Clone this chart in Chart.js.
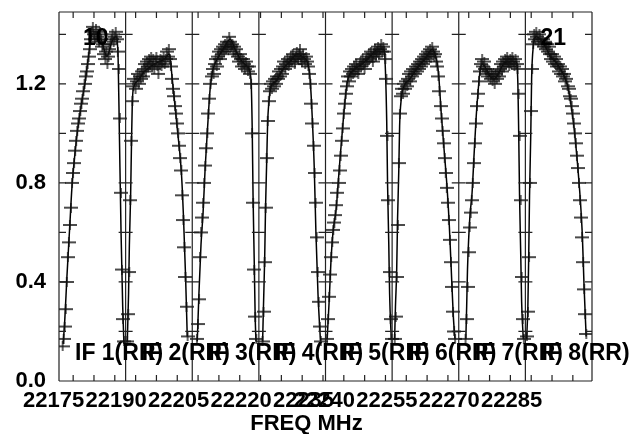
<!DOCTYPE html>
<html><head><meta charset="utf-8">
<script src="https://cdn.jsdelivr.net/npm/chart.js@4.4.0/dist/chart.umd.min.js"></script>
<style>html,body{margin:0;padding:0;background:#fff}#wrap{width:632px;height:434px;position:relative}</style>
</head><body><div id="wrap"><canvas id="c"></canvas></div>
<script>
// ---- data ----
const ifStart = [22171.6, 22187.6, 22203.6, 22219.6, 22235.6, 22251.6, 22267.6, 22283.6];
const ifWidth = 16;
const chanWidth = 0.25;
const ifLabels = ['IF 1(RR)','IF 2(RR)','IF 3(RR)','IF 4(RR)','IF 5(RR)','IF 6(RR)','IF 7(RR)','IF 8(RR)'];
const cornerLabels = ['10', '21'];
const xTickValues = [22175,22180,22185,22190,22195,22200,22205,22210,22215,22220,22225,22230,22235,22240,22245,22250,22255,22260,22265,22270,22275,22280,22285,22290,22295];
const xTickLabels = [22175,22190,22205,22220,22235,22240,22255,22270,22285];
const yTickValues = [0.2,0.4,0.6,0.8,1.0,1.2,1.4];
const yTickLabels = [0.0,0.4,0.8,1.2];
const axisTitle = 'FREQ MHz';

// channel amplitudes per IF (64 channels each, null = no data)
const amp1 = [null,null,null,0.14,0.17,0.22,0.29,0.40,0.50,0.56,0.63,0.70,0.80,0.84,0.88,0.93,0.97,1.01,1.04,1.06,1.09,1.12,1.14,1.17,1.20,1.23,1.25,1.28,1.31,1.34,1.38,1.41,1.43,1.40,1.38,1.42,1.39,1.40,1.37,1.41,1.38,1.35,1.36,1.32,1.30,1.33,1.28,1.31,1.34,1.36,1.38,1.40,1.37,1.39,1.41,1.38,1.33,1.26,1.06,0.76,0.45,0.25,0.16,null];
const amp2 = [null,0.16,0.27,0.44,0.73,0.97,1.13,1.19,1.22,1.18,1.21,1.24,1.20,1.23,1.22,1.25,1.23,1.26,1.28,1.25,1.29,1.27,1.30,1.28,1.31,1.27,1.30,1.26,1.29,1.31,1.27,1.24,1.28,1.30,1.27,1.29,1.31,1.28,1.30,1.33,1.31,1.34,1.30,1.27,1.22,1.18,1.15,1.11,1.08,1.04,1.00,0.95,0.90,0.85,0.75,0.65,0.54,0.42,0.30,0.18,null,null,null,null];
const amp3 = [null,null,null,null,0.17,0.23,0.33,0.50,0.60,0.66,0.72,0.80,0.87,0.94,1.00,1.08,1.14,1.20,1.23,1.26,1.24,1.28,1.30,1.27,1.31,1.33,1.30,1.34,1.32,1.35,1.33,1.36,1.34,1.37,1.35,1.39,1.37,1.35,1.36,1.33,1.35,1.32,1.34,1.31,1.29,1.32,1.30,1.27,1.30,1.28,1.26,1.29,1.27,1.25,1.27,1.24,1.20,1.00,0.72,0.45,0.26,0.17,null,null];
const amp4 = [null,null,null,0.16,0.28,0.48,0.70,0.90,1.05,1.13,1.17,1.20,1.18,1.21,1.19,1.22,1.20,1.23,1.22,1.25,1.23,1.26,1.24,1.27,1.29,1.26,1.28,1.30,1.27,1.29,1.31,1.29,1.32,1.30,1.28,1.31,1.33,1.30,1.32,1.34,1.31,1.29,1.32,1.30,1.28,1.31,1.29,1.27,1.24,1.20,1.12,1.04,0.95,0.84,0.72,0.58,0.44,0.32,0.22,0.16,null,null,null,null];
const amp5 = [null,0.17,0.25,0.34,0.43,0.50,0.56,0.61,0.64,0.67,0.71,0.76,0.80,0.85,0.91,0.97,1.02,1.08,1.12,1.16,1.19,1.23,1.21,1.25,1.23,1.26,1.24,1.27,1.25,1.28,1.26,1.24,1.27,1.29,1.27,1.30,1.28,1.26,1.29,1.31,1.29,1.32,1.30,1.33,1.31,1.29,1.32,1.34,1.31,1.33,1.35,1.32,1.34,1.36,1.33,1.35,1.33,1.30,1.22,0.99,0.73,0.44,0.25,0.17];
const amp6 = [null,null,0.17,0.26,0.42,0.63,0.88,1.08,1.15,1.18,1.16,1.20,1.18,1.21,1.19,1.22,1.24,1.21,1.25,1.23,1.26,1.24,1.27,1.25,1.28,1.26,1.29,1.27,1.30,1.28,1.31,1.29,1.32,1.30,1.33,1.31,1.34,1.32,1.35,1.33,1.31,1.32,1.29,1.27,1.23,1.17,1.11,1.06,1.01,0.96,0.90,0.84,0.78,0.72,0.65,0.57,0.48,0.38,0.28,0.20,0.17,null,null,null];
const amp7 = [null,null,null,null,null,null,0.17,0.25,0.38,0.52,0.62,0.68,0.73,0.80,0.88,0.96,1.04,1.11,1.16,1.21,1.25,1.28,1.30,1.27,1.29,1.26,1.24,1.26,1.23,1.25,1.22,1.24,1.21,1.23,1.20,1.24,1.22,1.25,1.23,1.26,1.28,1.25,1.29,1.27,1.30,1.28,1.31,1.29,1.27,1.30,1.28,1.31,1.29,1.27,1.30,1.28,1.26,1.16,0.99,0.73,0.42,0.25,0.17,null];
const amp8 = [null,0.18,0.28,0.50,0.80,1.09,1.26,1.36,1.40,1.38,1.41,1.39,1.37,1.40,1.38,1.36,1.38,1.35,1.37,1.34,1.36,1.33,1.35,1.32,1.30,1.32,1.29,1.31,1.28,1.30,1.27,1.28,1.25,1.27,1.24,1.26,1.23,1.24,1.21,1.22,1.19,1.18,1.15,1.14,1.11,1.08,1.04,1.00,0.96,0.91,0.86,0.80,0.73,0.66,0.58,0.48,0.37,0.27,0.19,null,null,null,null,null];

// bandpass fit per IF: offset from IF start (MHz), amplitude
const fitOff1 = [1.0,1.4,1.9,2.6,3.1,4.3,5.5,6.3,7.0,7.9,9.1,10.3,11.5,12.7,13.7,14.2,14.5,14.9,15.3,15.6];
const fitAmp1 = [0.15,0.25,0.42,0.63,0.78,0.99,1.13,1.21,1.30,1.40,1.40,1.37,1.31,1.37,1.39,1.30,1.00,0.60,0.30,0.15];
const fitOff2 = [0.4,0.7,0.9,1.2,1.4,1.6,2.0,2.8,4.5,6.9,9.3,10.5,11.2,12.4,13.4,13.9,14.4,14.8];
const fitAmp2 = [0.16,0.35,0.55,0.75,0.95,1.12,1.19,1.21,1.25,1.28,1.30,1.32,1.22,1.02,0.84,0.66,0.42,0.18];
const fitOff3 = [1.2,1.6,2.1,2.6,3.1,3.6,4.3,5.0,6.0,7.4,9.1,10.3,11.5,13.2,14.1,14.4,14.6,14.9,15.1,15.3];
const fitAmp3 = [0.16,0.35,0.55,0.68,0.86,1.00,1.18,1.26,1.30,1.34,1.38,1.34,1.30,1.27,1.22,1.02,0.75,0.47,0.27,0.16];
const fitOff4 = [0.9,1.1,1.4,1.6,1.9,2.1,2.5,2.9,4.1,5.8,7.5,9.2,10.4,11.8,12.3,12.8,13.3,13.7,14.2,14.8];
const fitAmp4 = [0.16,0.30,0.50,0.70,0.90,1.04,1.14,1.19,1.21,1.26,1.29,1.32,1.31,1.28,1.22,1.07,0.86,0.60,0.35,0.16];
const fitOff5 = [0.4,0.9,1.3,1.8,2.6,3.0,3.5,4.0,4.5,5.0,5.4,7.1,8.8,10.7,12.6,14.1,14.4,14.7,14.9,15.2,15.4,15.8];
const fitAmp5 = [0.17,0.33,0.48,0.60,0.70,0.79,0.90,1.00,1.10,1.18,1.22,1.26,1.28,1.31,1.34,1.34,1.25,1.05,0.80,0.55,0.35,0.17];
const fitOff6 = [0.6,0.8,1.1,1.3,1.6,1.8,2.2,2.6,4.3,6.3,7.9,9.6,10.3,11.1,11.8,12.5,13.2,13.7,14.2,14.7,15.1];
const fitAmp6 = [0.17,0.30,0.45,0.65,0.85,1.03,1.14,1.18,1.22,1.27,1.30,1.34,1.32,1.25,1.08,0.93,0.78,0.64,0.45,0.26,0.17];
const fitOff7 = [1.7,1.9,2.1,2.4,2.7,3.2,3.7,4.2,4.7,5.1,5.6,6.6,7.5,8.5,9.5,10.7,12.3,13.8,14.2,14.4,14.6,14.9,15.1,15.5];
const fitAmp7 = [0.17,0.30,0.45,0.58,0.67,0.76,0.92,1.07,1.18,1.25,1.28,1.26,1.23,1.22,1.24,1.28,1.29,1.29,1.20,1.00,0.75,0.50,0.32,0.17];
const fitOff8 = [0.3,0.6,0.8,1.0,1.3,1.5,1.9,2.6,3.6,4.8,6.0,7.2,8.4,9.6,10.3,11.0,11.7,12.4,13.2,13.7,14.1,14.6];
const fitAmp8 = [0.17,0.30,0.50,0.75,1.00,1.22,1.35,1.39,1.38,1.35,1.31,1.29,1.26,1.22,1.18,1.11,1.02,0.90,0.73,0.58,0.38,0.18];

const amps = [amp1,amp2,amp3,amp4,amp5,amp6,amp7,amp8];
const fitOffs = [fitOff1,fitOff2,fitOff3,fitOff4,fitOff5,fitOff6,fitOff7,fitOff8];
const fitAmps = [fitAmp1,fitAmp2,fitAmp3,fitAmp4,fitAmp5,fitAmp6,fitAmp7,fitAmp8];

// ---- cross marker ----
const cross = document.createElement('canvas');
cross.width = 14; cross.height = 10;
(function(){const c = cross.getContext('2d'); c.strokeStyle = '#111'; c.lineWidth = 1.3;
 c.beginPath(); c.moveTo(0, 5); c.lineTo(14, 5); c.moveTo(7, 0); c.lineTo(7, 10); c.stroke();})();

const datasets = [];
for (let k = 0; k < 8; k++) {
  const pts = [];
  amps[k].forEach((v, i) => { if (v !== null) pts.push({x: ifStart[k] + (i + 0.5) * chanWidth, y: v}); });
  datasets.push({data: pts, showLine: false, pointStyle: cross, pointRadius: 3, pointHoverRadius: 3});
  const fit = fitOffs[k].map((o, i) => ({x: ifStart[k] + o, y: fitAmps[k][i]}));
  datasets.push({data: fit, showLine: true, pointRadius: 0, borderColor: '#000', borderWidth: 1.5, cubicInterpolationMode: 'monotone', fill: false});
}

const framePlugin = {
  id: 'frame',
  afterDatasetsDraw(chart) {
    const {ctx, chartArea: a, scales: {x, y}} = chart;
    ctx.save();
    ctx.strokeStyle = '#222';
    ctx.lineWidth = 1.2;
    ctx.beginPath();
    ctx.moveTo(a.left, a.top); ctx.lineTo(a.right, a.top);
    ctx.moveTo(a.left, a.bottom); ctx.lineTo(a.right, a.bottom);
    for (let k = 0; k <= 8; k++) {
      const px = x.getPixelForValue(ifStart[0] + k * ifWidth);
      ctx.moveTo(px, a.top); ctx.lineTo(px, a.bottom);
      yTickValues.forEach(v => {
        const py = y.getPixelForValue(v);
        if (k < 8) { ctx.moveTo(px, py); ctx.lineTo(px + 7, py); }
        if (k > 0) { ctx.moveTo(px - 7, py); ctx.lineTo(px, py); }
      });
    }
    xTickValues.forEach(v => {
      const px = x.getPixelForValue(v);
      ctx.moveTo(px, a.bottom); ctx.lineTo(px, a.bottom - 6);
      ctx.moveTo(px, a.top); ctx.lineTo(px, a.top + 6);
    });
    ctx.stroke();
    ctx.fillStyle = '#000';
    ctx.textBaseline = 'alphabetic';
    ctx.textAlign = 'left';
    ctx.font = 'bold 23px "Liberation Sans", Arial, sans-serif';
    for (let k = 0; k < 8; k++) {
      const px = x.getPixelForValue(ifStart[k]);
      ctx.fillText(ifLabels[k], px + 16, a.bottom - 21);
    }
    ctx.font = 'bold 23px "Liberation Sans", Arial, sans-serif';
    ctx.fillText(cornerLabels[0], x.getPixelForValue(ifStart[0]) + 24, a.top + 33);
    ctx.fillText(cornerLabels[1], x.getPixelForValue(ifStart[7]) + 15, a.top + 33);
    ctx.textAlign = 'center';
    ctx.font = 'bold 22px "Liberation Sans", Arial, sans-serif';
    ctx.fillText(axisTitle, (a.left + a.right) / 2 - 19, a.bottom + 49);
    ctx.restore();
  }
};

new Chart(document.getElementById('c'), {
  type: 'scatter',
  data: {datasets},
  options: {
    responsive: true, maintainAspectRatio: false, animation: false,
    layout: {padding: {top: 12, right: 40, left: 0, bottom: 0}},
    plugins: {legend: {display: false}, tooltip: {enabled: false}},
    scales: {
      x: {
        type: 'linear', min: ifStart[0], max: ifStart[7] + ifWidth,
        grid: {display: false, drawTicks: false}, border: {display: false},
        afterFit(s) { s.height = 53; s.paddingLeft = 0; s.paddingRight = 0; },
        afterBuildTicks(s) { s.ticks = xTickValues.map(v => ({value: v})); },
        ticks: {
          autoSkip: false, maxRotation: 0, minRotation: 0, padding: 7, labelOffset: -19.5,
          color: '#000', font: {family: '"Liberation Sans", Arial, sans-serif', size: 22, weight: 'bold'},
          callback: v => xTickLabels.includes(Math.round(v)) ? String(Math.round(v)) : ''
        }
      },
      y: {
        type: 'linear', min: 0, max: 1.49,
        grid: {display: false, drawTicks: false}, border: {display: false},
        afterFit(s) { s.width = 59; s.paddingTop = 0; s.paddingBottom = 0; },
        afterBuildTicks(s) { s.ticks = yTickLabels.map(v => ({value: v})); },
        ticks: {
          padding: 13, color: '#000',
          font: {family: '"Liberation Sans", Arial, sans-serif', size: 22, weight: 'bold'},
          callback: v => Number(v).toFixed(1)
        }
      }
    }
  },
  plugins: [framePlugin]
});
</script></body></html>
